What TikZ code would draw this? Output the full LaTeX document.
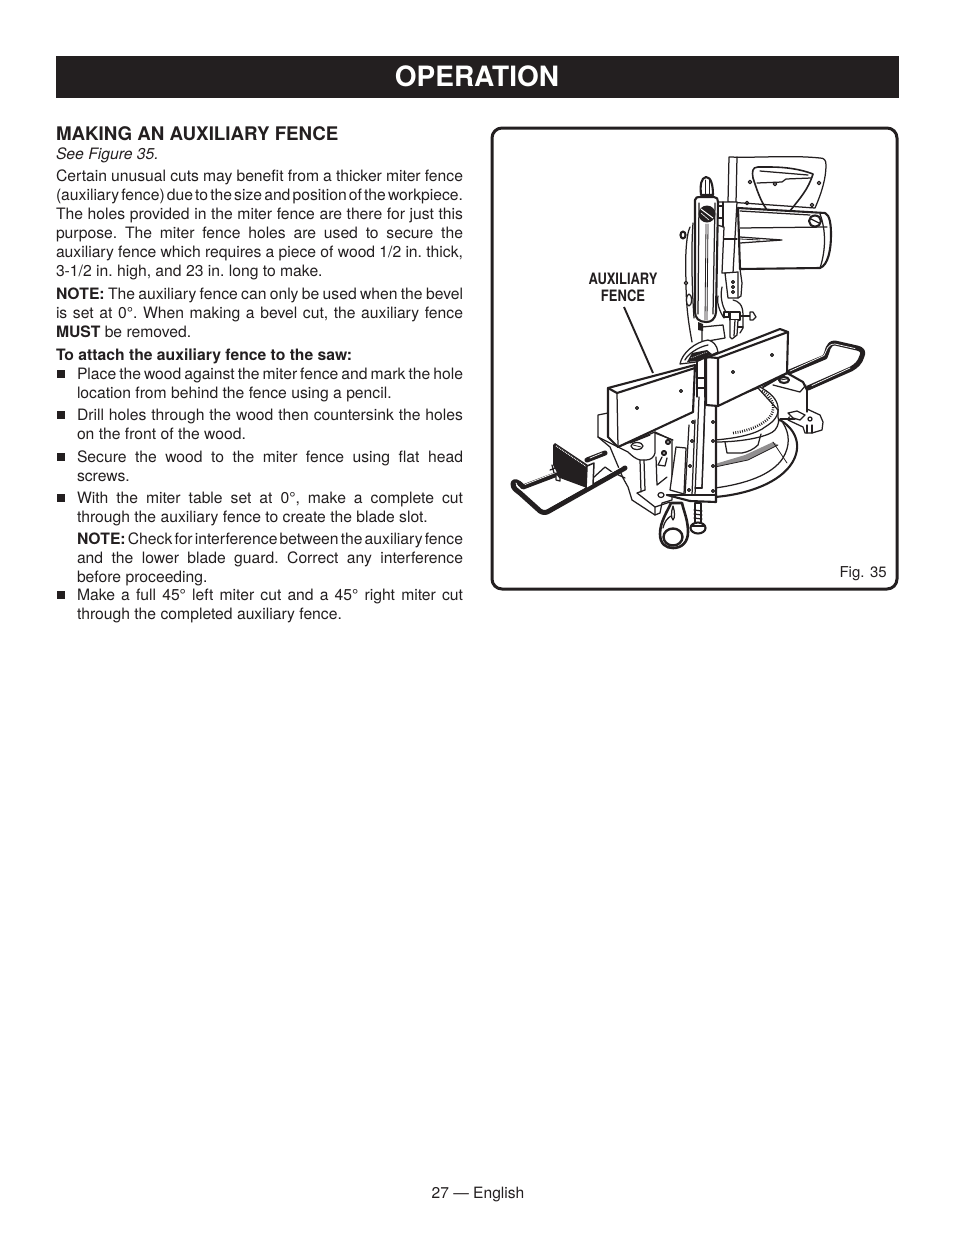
\documentclass[tikz,border=0pt]{standalone}
\usepackage{fontspec}
\setmainfont{TeX Gyre Heros}
\usepackage{graphicx}
\definecolor{ink}{HTML}{231F20}
\tikzset{
 txt/.style={anchor=base west,inner sep=0pt,outer sep=0pt,text=ink,font=\fontsize{15.7}{19}\selectfont},
 fn/.style={line width=1.25pt,draw=ink,line join=round,line cap=round},
 hv/.style={line width=2.1pt,draw=ink,line join=round,line cap=round},
 tn/.style={line width=.8pt,draw=ink,line join=round,line cap=round},
 wh/.style={fill=white},
 rodo/.style={line width=5pt,draw=ink,line join=round,line cap=round},
 rodi/.style={line width=.7pt,draw=white,line join=round,line cap=round},
 ticks/.style={line width=2.6pt,draw=ink,dash pattern=on .9pt off 1.4pt},
}
\newcommand{\JLtext}{}
\newcommand{\jl}[4]{\node[txt] (#1) at (#2,#3) {\makebox[#4pt][s]{\frenchspacing\spaceskip=.278em plus 1em minus .27em\relax\JLtext}};}
\newcommand{\jline}[5]{\renewcommand{\JLtext}{#5}\jl{#1}{#2}{#3}{#4}}
\newcommand{\pline}[4]{\node[txt] (#1) at (#2,#3) {\frenchspacing #4};}
\newcommand{\bul}[1]{\fill[ink] (57,#1-9) rectangle (65,#1-1);}
\begin{document}
\begin{tikzpicture}[x=1pt,y=-1pt]
\useasboundingbox (0,0) rectangle (954,1235);
\fill[white] (0,0) rectangle (954,1235);
% banner
\node[fill=ink,minimum width=843pt,minimum height=42pt,inner sep=0pt,anchor=north west] (banner) at (56,56) {};
\node[anchor=base,inner sep=0pt,text=white,font=\fontsize{28}{30}\selectfont\bfseries] (title) at (477,86.5) {OPERATION};
% left column
\node[txt,font=\fontsize{18.75}{20}\selectfont\bfseries] (head) at (56,140) {MAKING AN AUXILIARY FENCE};
\node[txt,font=\fontsize{15.7}{19}\selectfont\itshape] (see) at (56,159) {See Figure 35.};
\jline{p1}{56}{181}{407}{Certain unusual cuts may benefit from a thicker miter fence}
\jline{p2}{56}{200}{407}{(auxiliary fence) due to the size and position of the workpiece.}
\jline{p3}{56}{219}{407}{The holes provided in the miter fence are there for just this}
\jline{p4}{56}{238}{407}{purpose. The miter fence holes are used to secure the}
\jline{p5}{56}{257}{407}{auxiliary fence which requires a piece of wood 1/2 in. thick,}
\pline{p6}{56}{276}{3-1/2 in. high, and 23 in. long to make.}
\jline{n1}{56}{299}{407}{\textbf{NOTE:} The auxiliary fence can only be used when the bevel}
\jline{n2}{56}{318}{407}{is set at 0°. When making a bevel cut, the auxiliary fence}
\pline{n3}{56}{337}{\textbf{MUST} be removed.}
\pline{att}{56}{360}{\textbf{To attach the auxiliary fence to the saw:}}
\bul{379}\jline{a1}{77}{379}{386}{Place the wood against the miter fence and mark the hole}
\pline{a2}{77}{398}{location from behind the fence using a pencil.}
\bul{420}\jline{b1}{77}{420}{386}{Drill holes through the wood then countersink the holes}
\pline{b2}{77}{439}{on the front of the wood.}
\bul{462}\jline{c1}{77}{462}{386}{Secure the wood to the miter fence using flat head}
\pline{c2}{77}{481}{screws.}
\bul{503}\jline{d1}{77}{503}{386}{With the miter table set at 0°, make a complete cut}
\pline{d2}{77}{522}{through the auxiliary fence to create the blade slot.}
\jline{e1}{77}{544}{386}{\textbf{NOTE:} Check for interference between the auxiliary fence}
\jline{e2}{77}{563}{386}{and the lower blade guard. Correct any interference}
\pline{e3}{77}{582}{before proceeding.}
\bul{600}\jline{f1}{77}{600}{386}{Make a full 45° left miter cut and a 45° right miter cut}
\pline{f2}{77}{619}{through the completed auxiliary fence.}
\node[anchor=base,inner sep=0pt,text=ink,font=\fontsize{15.6}{18}\selectfont] (foot) at (478,1198) {27 — English};
% frame
\draw[line width=3pt,draw=ink,rounded corners=10pt] (492,128) rectangle (897,589);
\node[anchor=base east,inner sep=0pt,text=ink,font=\fontsize{15}{16}\selectfont] (fig) at (887,577) {Fig. 35};
\node[anchor=base,inner sep=0pt,text=ink,font=\fontsize{15.7}{17}\selectfont\bfseries] (lab1) at (623,284) {\scalebox{.825}[1]{AUXILIARY}};
\node[anchor=base,inner sep=0pt,text=ink,font=\fontsize{15.7}{17}\selectfont\bfseries] (lab2) at (623,301) {\scalebox{.825}[1]{FENCE}};
%
% ---- saw head: handle
\draw[fn,wh] (729,157) -- (728,202) -- (815,208) .. controls (822,192) and (826,178) .. (826,165) .. controls (826,160) and (824,158) .. (820,158) .. controls (790,155) and (760,158) .. (729,157) -- cycle;
\draw[fn] (737,157) -- (736,203);
\draw[fn,line width=1.6pt] (790,211) .. controls (800,198) and (808,190) .. (813,174) .. controls (800,169) and (785,167) .. (770,167) -- (758,167) .. controls (752,167) and (752,172) .. (753,178) .. controls (757,190) and (760,200) .. (767,210);
\draw[fn] (757,183) -- (782,182) -- (786,179) -- (811,178);
\draw[fn] (760,171) -- (808,175);
\foreach \p in {(750,182),(819,183),(747,203),(812,205),(775,184)} \draw[fn] \p circle (1.8);
% motor
\draw[hv,wh] (738,208) -- (825,213) .. controls (830,215) and (831,225) .. (831,235) .. controls (831,250) and (828,265) .. (820,268) -- (740,269) -- cycle;
\draw[fn] (740,211) -- (810,215);
\draw[fn] (740,228) -- (827,227);
\draw[fn] (820,214) .. controls (826,230) and (826,250) .. (820,268);
\draw[fn] (740,237) -- (782,240) -- (740,243);
\draw[tn] (740,239) -- (760,240);
\draw[hv,wh] (815,221) ellipse (6 and 5.5);
\draw[fn] (811,219) -- (819,223);
% column
\draw[fn,wh] (717,202) -- (737,202) -- (733,273) -- (722,273) -- (724,227) -- (717,225) -- cycle;
\draw[fn] (723,202) -- (723,227);
\draw[fn] (717,206) -- (723,206) (717,218) -- (723,218);
\draw[fn] (724,239) -- (737,239);
\draw[fn] (740,269) -- (742,283) -- (741,296) -- (738,298);
% bracket
\draw[fn,wh] (725,273) -- (738,272) -- (738,298) -- (728,298) -- cycle;
\foreach \yy in {282,287,292} \draw[fn] (733,\yy) circle (1.5);
% linkage below
\draw[fn] (722,287) .. controls (720,296) and (722,306) .. (726,312);
\draw[fn] (718,296) .. controls (716,305) and (722,315) .. (724,318);
\draw[fn] (733,300) .. controls (738,301) and (743,304) .. (743,315) -- (743,328) -- (740,333);
\draw[fn,wh] (702,327) -- (723,325) -- (725,338) -- (702,342) -- cycle;
\draw[fn,wh] (724,312) -- (729,312) -- (729,317) -- (724,317) -- cycle;
\draw[hv,wh] (730,312) -- (740,312) -- (740,320) -- (730,320) -- cycle;
\draw[hv] (740,316) -- (750,316);
\draw[fn,wh] (750,312) -- (753,312) -- (756,317) -- (753,320) -- (750,320) -- cycle;
\draw[fn,wh] (730,320) -- (730,337) -- (732,339) -- (737,335) -- (738,320);
\draw[fn] (735,320) -- (734,336);
\draw[fn] (738,327) -- (743,327);
% blade guard
\draw[hv,wh] (701,195) .. controls (700,185) and (701,178) .. (706,177) .. controls (711,177) and (713,185) .. (713,195) -- cycle;
\draw[tn] (705,180) -- (705,195) (709,180) -- (709,195);
\draw[fn] (690,227) .. controls (686,235) and (685,260) .. (686,280) .. controls (686,305) and (688,320) .. (692,342);
\draw[fn] (693,223) .. controls (691,250) and (692,290) .. (694,318);
\draw[hv,wh] (683,235) ellipse (2.5 and 3.5);
\draw[fn,wh] (686,283) circle (1.8);
\draw[fn,wh] (689,300) ellipse (2.5 and 6);
\draw[hv,wh] (695,200) .. controls (695,197) and (698,197) .. (700,197) -- (714,197) .. controls (717,197) and (718,199) .. (718,202) -- (716,312) .. controls (715,320) and (711,322) .. (706,322) .. controls (699,322) and (695,318) .. (695,312) -- cycle;
\draw[fn] (699,203) -- (698,314) (715,203) -- (713,314);
\draw[tn] (706,224) -- (705,320) (708,224) -- (707,320);
\fill[ink] (707,214) circle (8.5);
\draw[white,line width=1pt] (701,209) -- (713,218);
\draw[white,line width=.6pt] (701,213) -- (709,220);
\fill[ink] (698,322) -- (703,324) -- (703,331) -- (698,330) -- cycle;
% pivot gear region
\draw[fn,wh] (680,364) .. controls (682,353) and (695,342) .. (708,340) .. controls (713,341) and (717,345) .. (718,352) -- (696,362) -- cycle;
\draw[fn] (685,360) .. controls (688,354) and (698,347) .. (708,345);
\fill[ink] (692,353) -- (707,350) -- (712,354) -- (698,361) -- (687,362) -- cycle;
\draw[white,line width=.5pt,dash pattern=on 1pt off 1pt] (691,358) -- (707,352);
% ---- right rail
\draw[rodo] (787,373) -- (825,357) .. controls (828,352) and (827,343) .. (835,343) -- (857,348) .. controls (862,349) and (864,352) .. (862,356) .. controls (860,363) and (856,366) .. (851,369) -- (808,388);
\draw[rodi] (790,371) -- (824,355.5) .. controls (827,350) and (827,344) .. (835,344) -- (855,348.5);
\draw[rodi] (812,385.5) -- (850,368);
% table
\draw[hv,wh] (715,497) .. controls (750,494) and (780,482) .. (792,463) .. controls (802,447) and (797,430) .. (780,420) -- (715,440) -- cycle;
\draw[fn] (715,488) .. controls (745,484) and (772,475) .. (783,458) .. controls (790,446) and (790,434) .. (783,423);
\fill[ink!50] (715,467) -- (748,460) -- (778,445) -- (773,442) -- (745,455) -- (715,464) -- cycle;
\draw[tn] (715,467) -- (748,460) -- (778,445);
\draw[tn] (773,442) -- (787,463);
% ring
\draw[fn,wh] (715,442) .. controls (745,442) and (770,436) .. (775,430) .. controls (779,425) and (779,420) .. (778,417) -- (778,410) -- (758,388) -- (715,405) -- cycle;
\draw[fn] (715,440) .. controls (740,438) and (758,433) .. (765,427) .. controls (775,421) and (779,415) .. (778,407) .. controls (777,399) and (770,392) .. (758,386);
\draw[ticks] (733,433) .. controls (748,431) and (760,426) .. (768,419) .. controls (774,413) and (775,405) .. (770,398) .. controls (768,395) and (765,392) .. (761,390);
\draw[fn] (725,442) -- (727,453) -- (742,453) .. controls (748,452) and (754,449) .. (758,445) -- (761,434);
% right foot
\draw[fn,wh] (788,420) -- (803,427) -- (805,433) -- (812,433) -- (822,430) -- (823,422) -- (820,415) -- (807,409) -- (790,415) -- cycle;
\draw[fn] (807,425) -- (807,433) (812,425) -- (812,433);
\draw[fn,wh] (810,419) circle (2);
% bracket right
\fill[white] (770,380) -- (787,373) -- (803,382) -- (807,390) -- (807,411) -- (792,416) -- (781,418) -- (778,400) -- cycle;
\draw[hv] (763,387) -- (787,373) -- (803,382) -- (807,390);
\draw[fn] (773,385) -- (800,392) -- (806,385);
\draw[fn] (807,390) -- (807,412);
\draw[fn] (780,419) -- (795,419);
\draw[fn,wh] (788,413) -- (797,411) -- (805,415) -- (800,420) -- (793,418) -- cycle;
\draw[hv,wh] (784,380) ellipse (5 and 3);
\draw[tn] (780,380) -- (787,379);
% ---- left base
\draw[fn,wh] (608,413) -- (598,415) -- (598,437) -- (610,447) -- (623,478) -- (628,487) -- (632,500) -- (655,515) -- (660,513) -- (662,503) -- (672,500) -- (672,440) -- (655,432) -- (618,447) -- cycle;
\draw[fn] (598,437) -- (628,452) .. controls (632,456) and (636,459) .. (640,460) -- (646,460) .. controls (651,460) and (654,457) .. (655,453) -- (655,432);
\draw[fn] (630,443) -- (650,435);
\draw[fn,wh] (637,446) ellipse (6 and 3.5);
\draw[tn] (633,445) -- (641,447);
\draw[fn] (640,460) -- (641,492) (644,460) -- (645,490);
\draw[fn] (637,493) -- (645,490);
\draw[fn] (637,493) -- (655,507) -- (655,515);
\draw[fn] (655,507) -- (670,502);
\draw[fn] (655,433) -- (673,440);
\draw[fn] (656,457) -- (657,485) -- (667,477);
\draw[hv,wh] (668,442) circle (2);
\draw[hv,wh] (664,453) circle (2);
\draw[fn] (662,457) -- (658,465) -- (665,466) -- (667,458);
\draw[fn,wh] (661,495) ellipse (3 and 2.5);
% ---- front plate
\fill[white] (696,400) -- (716,405) -- (716,502) -- (690,502) -- (667,495) -- (689,420) -- cycle;
\draw[fn] (689,425) -- (685,495) (695,420) -- (692,495);
\draw[fn] (699,397) -- (695,495) (705,397) -- (702,488);
\draw[fn] (695,488) -- (702,488);
\draw[fn] (705,405) -- (702,488);
\draw[hv] (667,495) -- (716,495);
\draw[hv] (690,501) -- (716,502) -- (716,405);
\draw[hv] (667,495) -- (690,501);
\draw[fn,wh] (676,447) -- (686,448) -- (684,494) -- (670,490) -- cycle;
\draw[fn] (697,360) -- (697,397) (705,358) -- (705,397);
\draw[fn] (697,378) -- (705,378) (697,388) -- (705,388);
\foreach \p in {(713,422),(713,441),(713,466),(713,491),(693,422),(692,441),(690,466),(689,490)} \draw[fn,wh] \p circle (1.5);
% stop screw & knob
\draw[fn,wh] (695,503) -- (695,523) -- (701,523) -- (701,503) -- cycle;
\foreach \yy in {510,514,518} \draw[fn] (694,\yy) -- (702,\yy+1);
\draw[hv,wh] (698,528) ellipse (7.5 and 5.5);
\draw[fn] (691,526) -- (705,526);
\draw[hv,line width=2.6pt,wh] (671,503) .. controls (667,512) and (660,522) .. (660,534) .. controls (660,544) and (666,548) .. (673,548) .. controls (682,548) and (688,542) .. (688,532) .. controls (688,520) and (684,512) .. (682,503) -- cycle;
\draw[hv,line width=2.4pt] (673,537) ellipse (9.5 and 8.5);
\draw[fn] (673,506) .. controls (671,512) and (671,518) .. (673,520) .. controls (675,518) and (675,512) .. (673,506);
\draw[fn] (663,528) .. controls (665,520) and (668,518) .. (671,516);
% ---- left rail
\draw[fn] (593,478) -- (605,467) -- (612,472) -- (625,478);
\draw[rodo] (605,453) -- (587,460);
\draw[rodi] (602,453) -- (590,458);
\draw[rodo] (560,473) -- (523,487) .. controls (518,481) and (513,480) .. (513,484) .. controls (513,488) and (516,490) .. (520,493) -- (540,511) .. controls (543,513) and (546,513) .. (549,511) -- (625,468);
\draw[rodi] (557,472) -- (525,484.5);
\draw[rodi] (546,509) -- (622,466.5);
\draw[rodi] (516,483) -- (518,487);
\fill[ink] (553,445) -- (555,443) -- (588,465) -- (587,488) -- (560,478) -- (553,465) -- cycle;
\draw[white,line width=1.1pt,dash pattern=on .8pt off 1pt] (556,446) -- (587,467);
\draw[fn,wh,line width=1.5pt] (587,466) -- (594,463) -- (593,485) -- (586,489) -- cycle;
\draw[fn] (550,470) -- (558,467) (552,465) -- (554,473);
\draw[fn,wh] (556,473) -- (560,478) -- (560,481) -- (556,480) -- cycle;
% ---- right fence
\draw[hv,wh] (706,358) -- (780,329) -- (788,332) -- (787,373) -- (718,406) -- (706,405) -- cycle;
\draw[hv] (718,358) -- (788,332);
\draw[hv] (718,358) -- (718,406) (706,357) -- (718,358);
% ---- left fence
\draw[hv,wh] (608,388) -- (695,365) -- (693,412) -- (618,447) -- (608,437) -- cycle;
\draw[hv] (608,388) -- (617,393) -- (695,368);
\draw[fn] (617,393) -- (618,447);
\foreach \p in {(637,408),(681,391),(733,372),(772,355)} \draw[fn] \p circle (1.4);
% leader
\coordinate (ldrA) at (624,307);
\coordinate (ldrB) at (653,373);
\draw[line width=1.9pt,draw=ink] (ldrA) -- (ldrB);
\end{tikzpicture}
\end{document}
